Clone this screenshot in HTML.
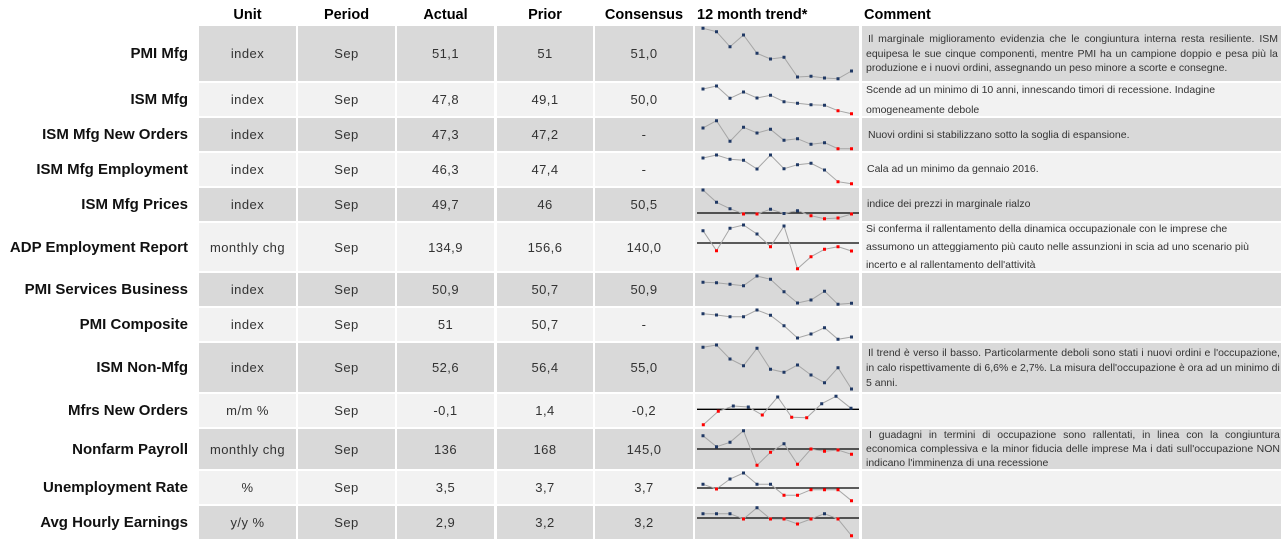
<!DOCTYPE html>
<html><head><meta charset="utf-8">
<style>
*{box-sizing:border-box}
body{margin:0;width:1285px;height:547px;background:#fff;position:relative;overflow:hidden;font-family:"Liberation Sans",sans-serif}
.h{position:absolute;top:6px;height:18px;line-height:18px;font-weight:bold;font-size:14.5px;color:#000;white-space:nowrap}
.hc{text-align:center}
.r{position:absolute;left:0;width:1285px}
.r>div{position:absolute;top:0;bottom:0;display:flex;align-items:center;justify-content:center;font-size:13px;letter-spacing:.45px;color:#333;white-space:nowrap}
.d>div{background:#d9d9d9}.l>div{background:#f2f2f2}
.r>div.lb{background:none;left:0;width:188px;justify-content:flex-end;font-weight:bold;font-size:15px;letter-spacing:0;color:#111}
.r>.u{left:199px;width:97px}.r>.p{left:298px;width:97px}.r>.a{left:397px;width:97px}.r>.pr{left:497px;width:96px}.r>.cs{left:595px;width:98px}.r>.t{left:695px;width:164px}.r>.cm{left:862px;width:419px}
.cl{position:absolute;left:866px;width:412px;height:14px;line-height:14px;font-size:10.5px;color:#333;white-space:nowrap}
.j{display:flex;justify-content:space-between}
svg{position:absolute;left:0;top:0}
</style></head><body>

<div class="h hc" style="left:199px;width:97px">Unit</div>
<div class="h hc" style="left:298px;width:97px">Period</div>
<div class="h hc" style="left:397px;width:97px">Actual</div>
<div class="h hc" style="left:497px;width:96px">Prior</div>
<div class="h hc" style="left:595px;width:98px">Consensus</div>
<div class="h" style="left:697px">12 month trend*</div>
<div class="h" style="left:864px">Comment</div>

<div class="r d" style="top:26px;height:55px"><div class="lb">PMI Mfg</div><div class="u">index</div><div class="p">Sep</div><div class="a">51,1</div><div class="pr">51</div><div class="cs">51,0</div><div class="t"></div><div class="cm"></div></div>
<div class="r l" style="top:83px;height:33px"><div class="lb">ISM Mfg</div><div class="u">index</div><div class="p">Sep</div><div class="a">47,8</div><div class="pr">49,1</div><div class="cs">50,0</div><div class="t"></div><div class="cm"></div></div>
<div class="r d" style="top:118px;height:33px"><div class="lb">ISM Mfg New Orders</div><div class="u">index</div><div class="p">Sep</div><div class="a">47,3</div><div class="pr">47,2</div><div class="cs">-</div><div class="t"></div><div class="cm"></div></div>
<div class="r l" style="top:153px;height:33px"><div class="lb">ISM Mfg Employment</div><div class="u">index</div><div class="p">Sep</div><div class="a">46,3</div><div class="pr">47,4</div><div class="cs">-</div><div class="t"></div><div class="cm"></div></div>
<div class="r d" style="top:188px;height:33px"><div class="lb">ISM Mfg Prices</div><div class="u">index</div><div class="p">Sep</div><div class="a">49,7</div><div class="pr">46</div><div class="cs">50,5</div><div class="t"></div><div class="cm"></div></div>
<div class="r l" style="top:223px;height:48px"><div class="lb">ADP Employment Report</div><div class="u">monthly chg</div><div class="p">Sep</div><div class="a">134,9</div><div class="pr">156,6</div><div class="cs">140,0</div><div class="t"></div><div class="cm"></div></div>
<div class="r d" style="top:273px;height:33px"><div class="lb">PMI Services Business</div><div class="u">index</div><div class="p">Sep</div><div class="a">50,9</div><div class="pr">50,7</div><div class="cs">50,9</div><div class="t"></div><div class="cm"></div></div>
<div class="r l" style="top:308px;height:33px"><div class="lb">PMI Composite</div><div class="u">index</div><div class="p">Sep</div><div class="a">51</div><div class="pr">50,7</div><div class="cs">-</div><div class="t"></div><div class="cm"></div></div>
<div class="r d" style="top:343px;height:49px"><div class="lb">ISM Non-Mfg</div><div class="u">index</div><div class="p">Sep</div><div class="a">52,6</div><div class="pr">56,4</div><div class="cs">55,0</div><div class="t"></div><div class="cm"></div></div>
<div class="r l" style="top:394px;height:33px"><div class="lb">Mfrs New Orders</div><div class="u">m/m %</div><div class="p">Sep</div><div class="a">-0,1</div><div class="pr">1,4</div><div class="cs">-0,2</div><div class="t"></div><div class="cm"></div></div>
<div class="r d" style="top:429px;height:40px"><div class="lb">Nonfarm Payroll</div><div class="u">monthly chg</div><div class="p">Sep</div><div class="a">136</div><div class="pr">168</div><div class="cs">145,0</div><div class="t"></div><div class="cm"></div></div>
<div class="r l" style="top:471px;height:33px"><div class="lb">Unemployment Rate</div><div class="u">%</div><div class="p">Sep</div><div class="a">3,5</div><div class="pr">3,7</div><div class="cs">3,7</div><div class="t"></div><div class="cm"></div></div>
<div class="r d" style="top:506px;height:33px"><div class="lb">Avg Hourly Earnings</div><div class="u">y/y %</div><div class="p">Sep</div><div class="a">2,9</div><div class="pr">3,2</div><div class="cs">3,2</div><div class="t"></div><div class="cm"></div></div>

<!-- comments -->
<div class="cl j" style="top:32px;left:868px;width:410px"><span>Il</span><span>marginale</span><span>miglioramento</span><span>evidenzia</span><span>che</span><span>le</span><span>congiuntura</span><span>interna</span><span>resta</span><span>resiliente.</span><span>ISM</span></div>
<div class="cl j" style="top:46.5px"><span>equipesa</span><span>le</span><span>sue</span><span>cinque</span><span>componenti,</span><span>mentre</span><span>PMI</span><span>ha</span><span>un</span><span>campione</span><span>doppio</span><span>e</span><span>pesa</span><span>più</span><span>la</span></div>
<div class="cl" style="top:61px">produzione e i nuovi ordini, assegnando un peso minore a scorte e consegne.</div>

<div class="cl" style="top:82.5px">Scende ad un minimo di 10 anni, innescando timori di recessione. Indagine</div>
<div class="cl" style="top:103px">omogeneamente debole</div>

<div class="cl" style="top:128px;left:868px">Nuovi ordini si stabilizzano sotto la soglia di espansione.</div>
<div class="cl" style="top:162px;left:867px">Cala ad un minimo da gennaio 2016.</div>
<div class="cl" style="top:197px;left:867px">indice dei prezzi in marginale rialzo</div>

<div class="cl" style="top:222px">Si conferma il rallentamento della dinamica occupazionale con le imprese che</div>
<div class="cl" style="top:240px">assumono un atteggiamento più cauto nelle assunzioni in scia ad uno scenario più</div>
<div class="cl" style="top:258px">incerto e al rallentamento dell'attività</div>

<div class="cl j" style="top:346px;left:868px;width:412px"><span>Il</span><span>trend</span><span>è</span><span>verso</span><span>il</span><span>basso.</span><span>Particolarmente</span><span>deboli</span><span>sono</span><span>stati</span><span>i</span><span>nuovi</span><span>ordini</span><span>e</span><span>l'occupazione,</span></div>
<div class="cl j" style="top:361px;width:414px"><span>in</span><span>calo</span><span>rispettivamente</span><span>di</span><span>6,6%</span><span>e</span><span>2,7%.</span><span>La</span><span>misura</span><span>dell'occupazione</span><span>è</span><span>ora</span><span>ad</span><span>un</span><span>minimo</span><span>di</span></div>
<div class="cl" style="top:375.5px">5 anni.</div>

<div class="cl j" style="top:428px;left:869px;width:411px"><span>I</span><span>guadagni</span><span>in</span><span>termini</span><span>di</span><span>occupazione</span><span>sono</span><span>rallentati,</span><span>in</span><span>linea</span><span>con</span><span>la</span><span>congiuntura</span></div>
<div class="cl j" style="top:442px;width:414px"><span>economica</span><span>complessiva</span><span>e</span><span>la</span><span>minor</span><span>fiducia</span><span>delle</span><span>imprese</span><span>Ma</span><span>i</span><span>dati</span><span>sull'occupazione</span><span>NON</span></div>
<div class="cl" style="top:456px">indicano l'imminenza di una recessione</div>

<svg width="1285" height="547" viewBox="0 0 1285 547">
<g stroke="#000" stroke-width="1.3">
<line x1="697" y1="213" x2="859" y2="213"/>
<line x1="697" y1="243" x2="859" y2="243"/>
<line x1="697" y1="409.3" x2="859" y2="409.3"/>
<line x1="697" y1="449" x2="859" y2="449"/>
<line x1="697" y1="488" x2="859" y2="488"/>
<line x1="697" y1="518" x2="859" y2="518"/>
</g>
<g fill="none" stroke="#a6a6a6" stroke-width="1">
<polyline points="703,28.3 716.5,31.7 730,46.7 743.5,35 757,53.3 770.5,59 784,57.3 797.5,77 811,76.3 824.5,78 838,78.7 851.5,71"/>
<polyline points="703,89 716.5,86 730,98.3 743.5,92 757,98 770.5,95.3 784,101.7 797.5,103.3 811,104.7 824.5,105.3 838,110.7 851.5,113.7"/>
<polyline points="703,128 716.5,120.7 730,141.3 743.5,127.3 757,133 770.5,129.3 784,140.3 797.5,138.7 811,144.3 824.5,142.7 838,148.7 851.5,148.7"/>
<polyline points="703,158 716.5,155 730,159.3 743.5,160.3 757,169 770.5,155 784,168.7 797.5,164.7 811,163.3 824.5,170 838,181.7 851.5,183.7"/>
<polyline points="703,190 716.5,202.3 730,208.7 743.5,214 757,214 770.5,209.3 784,213.5 797.5,210.7 811,215.7 824.5,218.7 838,218 851.5,214"/>
<polyline points="703,230.7 716.5,250.7 730,228.3 743.5,225 757,234 770.5,246.7 784,226 797.5,268.7 811,256.7 824.5,249.3 838,246.7 851.5,251"/>
<polyline points="703,282.3 716.5,282.7 730,284.3 743.5,285.7 757,276 770.5,279.3 784,291.7 797.5,303 811,300 824.5,291.3 838,304.3 851.5,303.3"/>
<polyline points="703,313.7 716.5,315 730,316.7 743.5,316.7 757,310 770.5,315.3 784,325.7 797.5,338 811,334 824.5,327.7 838,339.3 851.5,337"/>
<polyline points="703,347.3 716.5,345 730,359 743.5,365.7 757,348.3 770.5,369.3 784,372.3 797.5,365 811,375 824.5,382.7 838,367.7 851.5,389"/>
<polyline points="703.3,424.7 718.3,411.3 733.3,406 748.3,407 762.3,415 777.7,397 791.7,417.3 806.7,417.7 821.7,403.7 836,396.3 851,408.3"/>
<polyline points="703,435.7 716.5,446.7 730,442.3 743.5,430.7 757,465.3 770.5,452.3 784,443.7 797.5,464.3 811,449 824.5,451.3 838,450 851.5,454.3"/>
<polyline points="703,484.3 716.5,489 730,479 743.5,473 757,484.3 770.5,484.3 784,495.3 797.5,495.3 811,489.7 824.5,489.7 838,489.7 851.5,500.7"/>
<polyline points="703,513.7 716.5,513.7 730,513.7 743.5,519 757,507.7 770.5,519 784,519 797.5,524 811,519 824.5,513.7 838,519 851.5,535.7"/>
</g>
<path fill="none" stroke="#1f3864" stroke-width="3" stroke-linecap="square" d="
M703 28.3h0M716.5 31.7h0M730 46.7h0M743.5 35h0M757 53.3h0M770.5 59h0M784 57.3h0M797.5 77h0M811 76.3h0M824.5 78h0M838 78.7h0M851.5 71h0
M703 89h0M716.5 86h0M730 98.3h0M743.5 92h0M757 98h0M770.5 95.3h0M784 101.7h0M797.5 103.3h0M811 104.7h0M824.5 105.3h0
M703 128h0M716.5 120.7h0M730 141.3h0M743.5 127.3h0M757 133h0M770.5 129.3h0M784 140.3h0M797.5 138.7h0M811 144.3h0M824.5 142.7h0
M703 158h0M716.5 155h0M730 159.3h0M743.5 160.3h0M757 169h0M770.5 155h0M784 168.7h0M797.5 164.7h0M811 163.3h0M824.5 170h0
M703 190h0M716.5 202.3h0M730 208.7h0M770.5 209.3h0M784 213.5h0M797.5 210.7h0
M703 230.7h0M730 228.3h0M743.5 225h0M757 234h0M784 226h0
M703 282.3h0M716.5 282.7h0M730 284.3h0M743.5 285.7h0M757 276h0M770.5 279.3h0M784 291.7h0M797.5 303h0M811 300h0M824.5 291.3h0M838 304.3h0M851.5 303.3h0
M703 313.7h0M716.5 315h0M730 316.7h0M743.5 316.7h0M757 310h0M770.5 315.3h0M784 325.7h0M797.5 338h0M811 334h0M824.5 327.7h0M838 339.3h0M851.5 337h0
M703 347.3h0M716.5 345h0M730 359h0M743.5 365.7h0M757 348.3h0M770.5 369.3h0M784 372.3h0M797.5 365h0M811 375h0M824.5 382.7h0M838 367.7h0M851.5 389h0
M733.3 406h0M748.3 407h0M777.7 397h0M821.7 403.7h0M836 396.3h0M851 408.3h0
M703 435.7h0M716.5 446.7h0M730 442.3h0M743.5 430.7h0M784 443.7h0
M703 484.3h0M730 479h0M743.5 473h0M757 484.3h0M770.5 484.3h0
M703 513.7h0M716.5 513.7h0M730 513.7h0M757 507.7h0M824.5 513.7h0"/>
<path fill="none" stroke="#ff0000" stroke-width="3" stroke-linecap="square" d="
M838 110.7h0M851.5 113.7h0
M838 148.7h0M851.5 148.7h0
M838 181.7h0M851.5 183.7h0
M743.5 214h0M757 214h0M811 215.7h0M824.5 218.7h0M838 218h0M851.5 214h0
M716.5 250.7h0M770.5 246.7h0M797.5 268.7h0M811 256.7h0M824.5 249.3h0M838 246.7h0M851.5 251h0
M703.3 424.7h0M718.3 411.3h0M762.3 415h0M791.7 417.3h0M806.7 417.7h0
M757 465.3h0M770.5 452.3h0M797.5 464.3h0M811 449h0M824.5 451.3h0M838 450h0M851.5 454.3h0
M716.5 489h0M784 495.3h0M797.5 495.3h0M811 489.7h0M824.5 489.7h0M838 489.7h0M851.5 500.7h0
M743.5 519h0M770.5 519h0M784 519h0M797.5 524h0M811 519h0M838 519h0M851.5 535.7h0"/>
</svg>
</body></html>
